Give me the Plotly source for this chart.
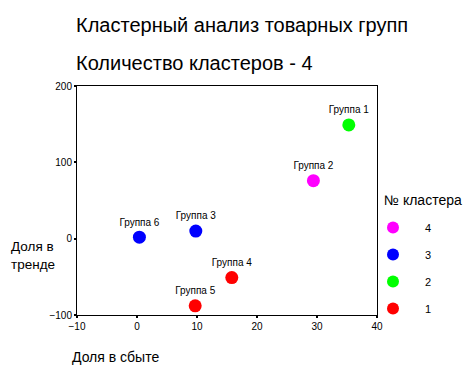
import plotly.graph_objects as go

groups = ["Группа 1", "Группа 2", "Группа 3", "Группа 4", "Группа 5", "Группа 6"]
share_sales = [35.3, 29.4, 9.8, 15.8, 9.7, 0.4]
share_trend = [149, 76, 10, -51, -88, 2]
cluster = [2, 4, 3, 1, 1, 3]

cluster_order = [4, 3, 2, 1]
cluster_colors = {4: "#FF00FF", 3: "#0000FF", 2: "#00FF00", 1: "#FF0000"}

FONT = "Liberation Sans, Arial, sans-serif"

# page body has an 8px default margin; screen positions below are page pixels
PL, PT, PW, PH = 77, 86, 300, 229


def px_x(sx):
    return (sx - PL) / PW


def px_y(sy):
    return 1 - (sy - PT) / PH


fig = go.Figure()
for c in cluster_order:
    idx = [i for i, k in enumerate(cluster) if k == c]
    fig.add_trace(go.Scatter(
        x=[share_sales[i] for i in idx],
        y=[share_trend[i] for i in idx],
        text=[groups[i] for i in idx],
        mode="markers+text",
        textposition="top center",
        textfont=dict(size=10, color="black", family=FONT),
        marker=dict(size=13, color=cluster_colors[c], symbol="circle"),
        name=str(c),
        legendgroup=str(c),
        cliponaxis=False,
    ))

fig.update_layout(
    width=463, height=368,
    margin=dict(l=69, r=94, t=78, b=61),
    paper_bgcolor="white", plot_bgcolor="white",
    font=dict(family=FONT, color="black"),
    showlegend=True,
    legend=dict(
        font=dict(size=11, family=FONT),
        x=px_x(361), xanchor="left", y=px_y(213), yanchor="top",
        itemwidth=54, tracegroupgap=8, itemsizing="constant",
        bgcolor="rgba(0,0,0,0)",
    ),
    xaxis=dict(
        range=[-10, 40], tickvals=[-10, 0, 10, 20, 30, 40],
        showgrid=False, zeroline=False,
        showline=True, linecolor="black", linewidth=1, mirror=True,
        ticks="outside", ticklen=2, tickwidth=2, tickcolor="black",
        tickfont=dict(size=10, family=FONT),
    ),
    yaxis=dict(
        range=[-100, 200], tickvals=[-100, 0, 100, 200],
        showgrid=False, zeroline=False,
        showline=True, linecolor="black", linewidth=1, mirror=True,
        ticks="outside", ticklen=2, tickwidth=2, tickcolor="black",
        tickfont=dict(size=10, family=FONT),
    ),
    annotations=[
        dict(text="Кластерный анализ товарных групп", xref="paper", yref="paper",
             x=px_x(74), y=px_y(25), xanchor="left", yanchor="middle",
             showarrow=False, font=dict(size=20, family=FONT)),
        dict(text="Количество кластеров - 4", xref="paper", yref="paper",
             x=px_x(74), y=px_y(63), xanchor="left", yanchor="middle",
             showarrow=False, font=dict(size=20, family=FONT)),
        dict(text="Доля в<br>тренде", xref="paper", yref="paper",
             x=px_x(9), y=px_y(255), xanchor="left", yanchor="middle",
             align="left", showarrow=False, font=dict(size=13.5, family=FONT)),
        dict(text="Доля в сбыте", xref="paper", yref="paper",
             x=px_x(70), y=px_y(357), xanchor="left", yanchor="middle",
             showarrow=False, font=dict(size=14, family=FONT)),
        dict(text="№ кластера", xref="paper", yref="paper",
             x=px_x(382), y=px_y(200), xanchor="left", yanchor="middle",
             showarrow=False, font=dict(size=14, family=FONT)),
    ],
)

fig.write_html("out.html")
